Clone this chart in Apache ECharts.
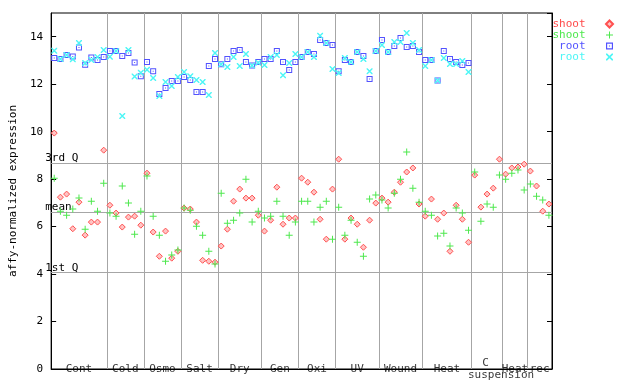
<!DOCTYPE html>
<html><head><meta charset="utf-8">
<script src="https://cdn.jsdelivr.net/npm/echarts@6/dist/echarts.min.js"></script>
<style>html,body{margin:0;padding:0;background:#fff}#c{width:640px;height:384px}</style>
</head><body><div id="c"></div>
<script>
// ---------- data ----------
const groups = ['Cont','Cold','Osmo','Salt','Dry','Gen','Oxi','UV','Wound','Heat','C suspension','Heat','rec'];
const groupSizes = [9,6,6,6,7,6,6,7,7,8,5,4,4];

const shoot1 = [9.94,7.24,7.37,5.91,7.03,5.64,6.19,6.19,9.22,
  6.90,6.57,5.98,6.40,6.44,6.06,
  8.25,5.77,4.75,5.81,4.67,4.96,
  6.78,6.74,6.19,4.58,4.54,4.50,
  5.18,5.89,7.07,7.58,7.20,7.20,6.48,
  5.81,6.27,7.66,6.10,6.36,6.36,
  8.04,7.87,7.45,6.31,5.47,7.58,
  8.84,5.47,6.36,6.10,5.13,6.27,6.99,
  7.20,7.03,7.45,7.87,8.30,8.47,6.95,
  6.44,7.16,6.31,6.57,4.96,6.90,6.31,5.34,
  8.17,6.82,7.37,7.62,8.84,
  8.21,8.47,8.51,8.63,
  8.34,7.71,6.65,6.95];
const shoot2 = [8.04,6.65,6.48,6.74,7.20,5.89,7.07,6.65,7.83,
  6.57,6.44,7.71,6.99,5.68,6.65,
  8.13,6.44,5.64,4.54,4.80,5.01,
  6.78,6.69,6.02,5.64,4.96,4.42,
  7.41,6.14,6.27,6.57,8.00,6.19,6.65,
  6.36,6.44,7.07,6.44,5.64,6.19,
  7.07,7.07,6.19,6.82,7.07,5.47,
  6.82,5.64,6.27,5.34,4.75,7.16,7.33,
  7.12,6.78,7.41,8.00,9.14,7.62,7.03,
  6.65,6.48,5.60,5.72,5.18,6.78,6.57,5.85,
  8.30,6.23,6.95,6.82,8.17,
  8.00,8.25,8.38,7.54,
  7.79,7.28,7.12,6.48];
const root1 = [13.10,13.06,13.23,13.17,13.55,12.82,13.13,13.02,13.15,
  13.40,13.40,13.19,13.31,12.91,12.34,
  12.94,12.55,11.59,11.84,12.13,12.13,
  12.30,12.18,11.67,11.67,12.77,13.06,
  12.84,13.06,13.40,13.44,12.94,12.79,12.94,
  13.06,13.06,13.40,12.94,12.60,12.94,
  13.15,13.36,13.27,13.86,13.74,13.65,
  12.55,13.02,12.94,13.36,13.19,12.22,13.40,
  13.86,13.36,13.61,13.95,13.57,13.61,13.36,
  13.02,13.02,12.16,13.40,13.06,12.94,12.81,12.89];
const root2 = [13.41,13.06,13.23,13.05,13.74,12.89,13.02,13.15,13.44,
  13.16,13.40,10.66,13.44,12.32,12.48,
  12.61,12.26,11.50,12.09,11.92,12.30,
  12.51,12.34,12.18,12.09,11.54,13.31,
  12.84,12.72,13.15,12.77,13.27,12.79,12.90,
  12.81,13.15,13.23,12.38,12.89,13.27,
  13.15,13.36,13.15,14.04,13.74,12.64,
  12.47,13.10,12.94,13.36,13.06,12.55,13.40,
  13.65,13.36,13.78,13.78,14.16,13.74,13.44,
  12.77,13.02,12.16,13.10,12.85,12.85,12.98,12.51];
const quartileNames = ['3rd Q','mean','1st Q'];
const quartileValues = [8.69, 6.62, 4.08];

// ---------- layout / style ----------
const FONT = 'DejaVu Sans Mono';
const COLORS = ['#ff4a4a','#4ee84e','#5252ff','#4cf6f6'];
const labelShiftPx = [1.5,-1.3,-2.5,-2,-9.3,-2,-8.4,-5.4,-1,-1.6,0,-1.2,-1.2];

const total = groupSizes.reduce((a,b)=>a+b,0);
const bounds = [];
const centers = [];
let acc = 0;
groupSizes.forEach((n,i)=>{ centers.push(acc + n/2); acc += n; if (i < groupSizes.length-1) bounds.push(acc); });

const pts = arr => arr.map((v,i)=> [i+0.5, v]);

const SYM_DIAMOND = 'path://M3,0L6,3L3,6L0,3Z';
const SYM_PLUS = 'path://M3,0H4V7H3Z M0,3H7V4H0Z';
const SYM_SQUARE = 'path://M0,0H6V6H0Z M1,1V5H5V1Z M2.5,2.5H3.5V3.5H2.5Z';
const SYM_X = 'path://M0,0L1,0L6,5L6,6L5,6L0,1Z M5,0L6,0L6,1L1,6L0,6L0,5Z';

const labelData = groups.map((g,i)=>{
  const two = g === 'C suspension';
  return {
    name: g,
    value: [centers[i], 0],
    label: two ? {
      formatter: '{a|C}\n{b|suspension}',
      rich: { a: {fontFamily: FONT, fontSize: 11, color:'#000', lineHeight: 13, padding:[2,3,0,0]},
              b: {fontFamily: FONT, fontSize: 11, color:'#000', lineHeight: 13, padding:[0,0,0,28]} }
    } : { offset: [labelShiftPx[i], -5] }
  };
});

const chart = echarts.init(document.getElementById('c'), null, {renderer:'canvas'});
chart.setOption({
  animation: false,
  backgroundColor: '#fff',
  grid: {left:44, top:13, width:508, height:356, show:true, borderColor:'#000', borderWidth:1, backgroundColor:'transparent'},
  xAxis: {type:'value', min:0, max:total, axisLine:{show:true, lineStyle:{color:'#000'}},
    axisTick:{show:false}, axisLabel:{show:false}, splitLine:{show:false}},
  yAxis: [{
    type:'value', min:0, max:15, interval:2, position:'left',
    axisLine:{show:true, lineStyle:{color:'#000'}},
    axisTick:{show:true, inside:true, length:5, lineStyle:{color:'#000'}},
    axisLabel:{color:'#000', fontFamily:FONT, fontSize:11, margin:8, showMaxLabel:false},
    splitLine:{show:false},
    name:'affy-normalized expression', nameLocation:'middle', nameGap:28,
    nameTextStyle:{color:'#000', fontFamily:FONT, fontSize:11}
  },{
    type:'value', min:0, max:15, interval:2, position:'right',
    axisLine:{show:true, lineStyle:{color:'#000'}},
    axisTick:{show:true, inside:true, length:5, lineStyle:{color:'#000'}},
    axisLabel:{show:false}, splitLine:{show:false}
  }],
  legend: {
    orient:'vertical', right:26, top:18.5, padding:0, itemGap:0, align:'right',
    itemWidth:38, itemHeight:7, symbolKeepAspect:true, selectedMode:false,
    textStyle:{fontFamily:FONT, fontSize:11, lineHeight:11},
    formatter: n => n.replace(/\d$/,''),
    data: ['shoot1','shoot2','root1','root2'].map((n,i)=>({name:n, textStyle:{color:COLORS[i]}}))
  },
  series: [
    { type:'scatter', name:'lines', data:[], silent:true, z:1,
      markLine:{ silent:true, symbol:'none', z:1, animation:false,
        lineStyle:{color:'#a6a6a6', width:1, type:'solid'},
        label:{show:false},
        data: bounds.map(b=>({xAxis:b})).concat(quartileValues.map((v,i)=>({
          yAxis:v, label:{show:true, formatter:quartileNames[i], position:'insideStartTop',
            distance:[-6,-1], color:'#000', fontFamily:FONT, fontSize:11}
        })))
      }
    },
    { type:'scatter', name:'shoot1', z:2, data:pts(shoot1), symbol:SYM_DIAMOND, symbolSize:6,
      itemStyle:{color:'#ffc4c4', borderColor:'#ff5050', borderWidth:1, opacity:1} },
    { type:'scatter', name:'shoot2', z:3, data:pts(shoot2), symbol:SYM_PLUS, symbolSize:7,
      itemStyle:{color:COLORS[1], opacity:1} },
    { type:'scatter', name:'root1', z:4, data:pts(root1), symbol:SYM_SQUARE, symbolSize:6,
      itemStyle:{color:COLORS[2], opacity:1} },
    { type:'scatter', name:'root2', z:5, data:pts(root2), symbol:SYM_X, symbolSize:6,
      itemStyle:{color:COLORS[3], opacity:1} },
    { type:'scatter', name:'groupLabels', z:6, silent:true, data:labelData, symbol:'circle', symbolSize:1,
      clip:false, itemStyle:{color:'rgba(0,0,0,0)'},
      labelLayout:{hideOverlap:false},
      label:{show:true, position:'inside', formatter:'{b}', color:'#000', fontFamily:FONT, fontSize:11, lineHeight:13} }
  ]
});
</script></body></html>
